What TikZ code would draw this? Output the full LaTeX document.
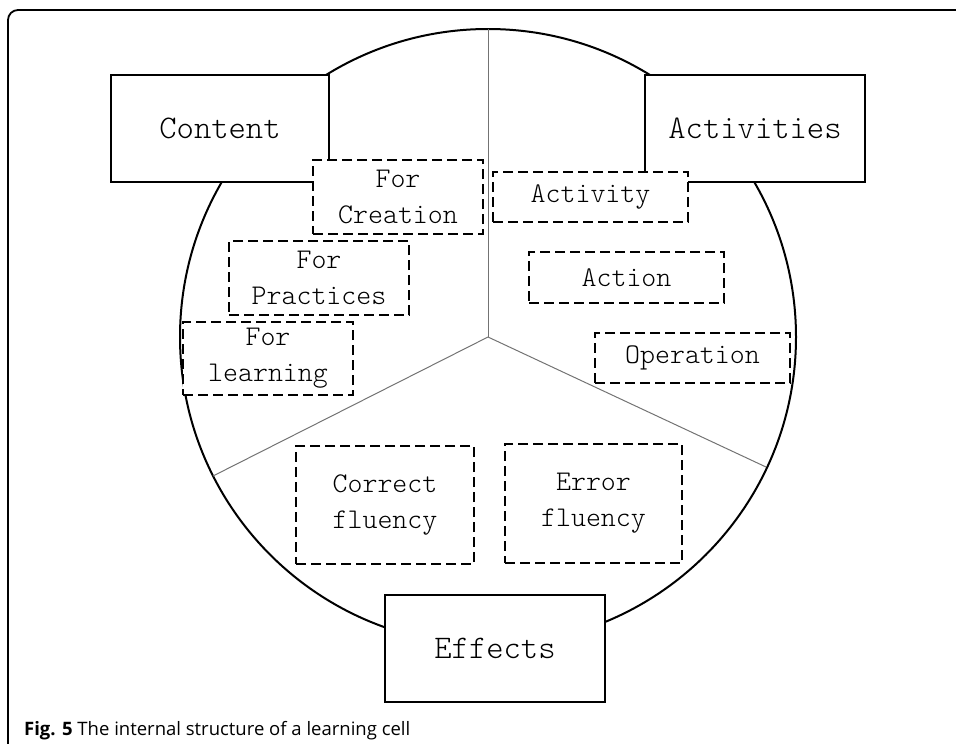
\documentclass[tikz,border=0pt]{standalone}
\usepackage{fontspec}
\newfontfamily\capfont{Open Sans}
\newfontfamily\boxfont{Latin Modern Mono Light}
\begin{document}
\begin{tikzpicture}[x=1pt,y=-1pt,
	part/.style={draw,fill=white,line width=2.3pt,minimum width=218pt,minimum height=107pt,inner sep=0pt,font=\boxfont\fontsize{33}{36}\selectfont},
	item/.style={draw,fill=white,dash pattern=on 10pt off 5pt,line width=2.3pt,inner sep=0pt,align=center,font=\boxfont\fontsize{28.5}{36}\selectfont},
	split/.style={black!55,line width=1pt}]
	\useasboundingbox (0,0) rectangle (956,744);
	% frame round the figure
	\draw[line width=1.8pt,rounded corners=10pt] (8,780) -- (8,10) -- (990,10);
	% the cell and its three parts
	\coordinate (c) at (488,337);
	\coordinate (t) at (488,29);
	\coordinate (l) at (213,476);
	\coordinate (r) at (766,467);
	\draw[line width=2pt] (c) circle (308);
	\draw[split] (c) -- (t);
	\draw[split] (c) -- (l);
	\draw[split] (c) -- (r);
	\node[part] (content) at (220,128.5) {Content};
	\node[part,minimum width=220pt] (activities) at (755,128.5) {Activities};
	\node[part,minimum width=220pt] (effects) at (495,648.5) {Effects};
	% content
	\node[item,minimum width=170pt,minimum height=74pt] (creation) at (398,197) {For\\Creation};
	\node[item,minimum width=180pt,minimum height=74pt] (practices) at (319,278) {For\\Practices};
	\node[item,minimum width=170pt,minimum height=73pt] (learning) at (268,358.5) {For\\learning};
	% activities
	\node[item,minimum width=195pt,minimum height=50pt] (activity) at (590.5,197) {Activity};
	\node[item,minimum width=195pt,minimum height=51pt] (action) at (626.5,277.5) {Action};
	\node[item,minimum width=195pt,minimum height=50pt] (operation) at (692.5,358) {Operation};
	% effects
	\node[item,minimum width=178pt,minimum height=118pt] (correct) at (385,505) {Correct\\fluency};
	\node[item,minimum width=177pt,minimum height=119pt] (error) at (593.5,503.5) {Error\\fluency};
	\node[anchor=base west,inner sep=0pt,font=\capfont\fontsize{18.5}{20}\selectfont] (caption) at (24,735) {\textbf{Fig. 5} The internal structure of a learning cell};
\end{tikzpicture}
\end{document}
